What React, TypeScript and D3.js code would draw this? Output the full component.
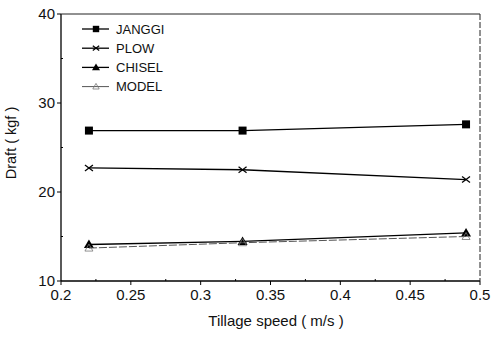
import React from "react";
import * as d3 from "d3";

const speeds = [0.22, 0.33, 0.49];
const janggi = [26.9, 26.9, 27.6];
const plow = [22.7, 22.5, 21.4];
const chisel = [14.1, 14.45, 15.4];
const model = [13.7, 14.3, 15.0];
const xTicks = [0.2, 0.25, 0.3, 0.35, 0.4, 0.45, 0.5];
const yTicks = [10, 20, 30, 40];
const seriesNames = ["JANGGI", "PLOW", "CHISEL", "MODEL"];

const W = 493, H = 337;
const L = 61, R = 480, T = 14, B = 281;
const font = "Liberation Sans, Arial, sans-serif";

function Marker({ kind, x, y, s = 1 }: { kind: string; x: number; y: number; s?: number }) {
  if (kind === "JANGGI")
    return <rect x={x - 4 * s} y={y - 4 * s} width={8 * s} height={8 * s} fill="#000" />;
  if (kind === "PLOW")
    return (
      <g stroke="#000" strokeWidth={1.2}>
        <line x1={x - 4 * s} y1={y - 3 * s} x2={x + 4 * s} y2={y + 3 * s} />
        <line x1={x - 4 * s} y1={y + 3 * s} x2={x + 4 * s} y2={y - 3 * s} />
      </g>
    );
  if (kind === "CHISEL")
    return (
      <path d={`M${x},${y - 5 * s}L${x + 5 * s},${y + 3.5 * s}L${x - 5 * s},${y + 3.5 * s}Z`} fill="#000" />
    );
  return (
    <g stroke="#777" strokeWidth={0.8} fill="none">
      <path d={`M${x},${y - 4 * s}L${x + 4 * s},${y + 3 * s}L${x - 4 * s},${y + 3 * s}Z`} />
    </g>
  );
}

export default function App() {
  const x = d3.scaleLinear().domain([0.2, 0.5]).range([L, R]);
  const y = d3.scaleLinear().domain([10, 40]).range([B, T]);
  const line = d3
    .line<[number, number]>()
    .x((d) => x(d[0]))
    .y((d) => y(d[1]));
  const data = [janggi, plow, chisel, model];
  const minor = d3.range(10, 41, 5).filter((v) => v % 10 !== 0);
  const xMinor = d3.range(0.2, 0.5001, 0.025).filter((_, i) => i % 2 === 1);

  return (
    <svg width={W} height={H} style={{ position: "absolute", left: 0, top: 0, background: "#fff" }}>
      <rect x={0} y={0} width={W} height={H} fill="#fff" />
      <line x1={L} y1={T} x2={L} y2={B} stroke="#000" strokeWidth={1.3} />
      <line x1={L} y1={B} x2={R} y2={B} stroke="#000" strokeWidth={1.3} />
      <line x1={L} y1={T} x2={R} y2={T} stroke="#222" strokeWidth={1} />
      <line x1={R} y1={T} x2={R} y2={B} stroke="#222" strokeWidth={1} strokeDasharray="6,2" />
      {yTicks.map((v) => (
        <g key={"y" + v}>
          <line x1={L - 4} x2={L} y1={y(v)} y2={y(v)} stroke="#000" />
          <text x={L - 6} y={y(v) + 5} textAnchor="end" fontFamily={font} fontSize={15} fill="#111">
            {v}
          </text>
        </g>
      ))}
      {minor.map((v) => (
        <line key={"ym" + v} x1={L} x2={L + 2} y1={y(v)} y2={y(v)} stroke="#000" />
      ))}
      {xTicks.map((v) => (
        <g key={"x" + v}>
          <line x1={x(v)} x2={x(v)} y1={B} y2={B + 4} stroke="#000" />
          <text x={x(v)} y={B + 19} textAnchor="middle" fontFamily={font} fontSize={15} fill="#111">
            {String(v)}
          </text>
        </g>
      ))}
      {xMinor.map((v, i) => (
        <line key={"xm" + i} x1={x(v)} x2={x(v)} y1={B} y2={B - 2} stroke="#000" />
      ))}
      <text
        transform={`translate(16,143) rotate(-90)`}
        textAnchor="middle"
        fontFamily={font}
        fontSize={14.5}
        fill="#111"
      >
        Draft ( kgf )
      </text>
      <text x={276} y={326} textAnchor="middle" fontFamily={font} fontSize={15} fill="#111">
        Tillage speed ( m/s )
      </text>
      {data.map((vals, si) => {
        const pts = speeds.map((s, i) => [s, vals[i]] as [number, number]);
        const name = seriesNames[si];
        return (
          <g key={name}>
            <path
              d={line(pts) || ""}
              fill="none"
              stroke={name === "MODEL" ? "#555" : "#000"}
              strokeWidth={name === "MODEL" ? 1 : 1.3}
              strokeDasharray={name === "MODEL" ? "8,2" : undefined}
            />
            {pts.map((p, i) => (
              <Marker key={i} kind={name} x={x(p[0])} y={y(p[1])} />
            ))}
          </g>
        );
      })}
      {seriesNames.map((name, i) => {
        const ly = 29 + i * 19.2;
        return (
          <g key={"lg" + name}>
            <line
              x1={82}
              x2={109}
              y1={ly}
              y2={ly}
              stroke={name === "MODEL" ? "#555" : "#000"}
              strokeWidth={name === "MODEL" ? 1 : 1.3}
            />
            <Marker kind={name} x={96} y={ly} s={0.8} />
            <text x={116} y={ly + 4.5} fontFamily={font} fontSize={13} fill="#111">
              {name}
            </text>
          </g>
        );
      })}
    </svg>
  );
}
